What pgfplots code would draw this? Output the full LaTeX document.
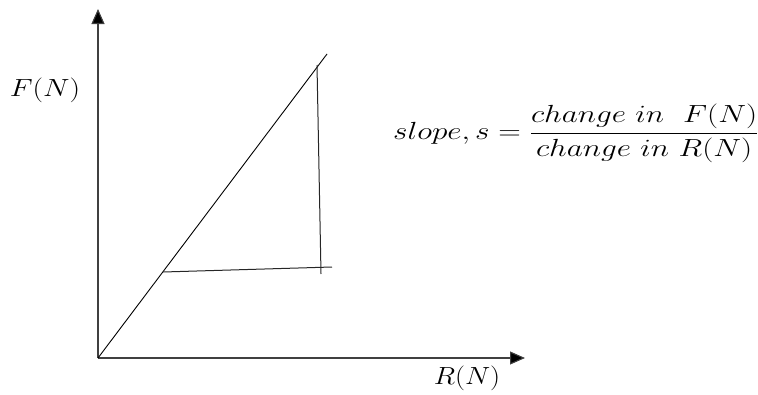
\documentclass[border=0pt]{standalone}
\usepackage{pgfplots}
\pgfplotsset{compat=1.18}
\usepackage{amsmath}
\usetikzlibrary{arrows.meta}
\begin{document}
\begin{tikzpicture}[x=1bp,y=1bp]
\useasboundingbox (0,0) rectangle (758,394);
\begin{axis}[
  at={(98bp,36bp)}, anchor=origin,
  x=1bp, y=1bp,
  xmin=0, xmax=427, ymin=0, ymax=349,
  axis lines=middle,
  ticks=none,
  clip=false,
  axis line style={line width=1.1bp, black!75, -{Triangle[width=13bp,length=15bp,fill=black]}},
]
\addplot[black, line width=0.9bp] coordinates {(0,0) (229,304)};
\addplot[black!85, line width=1bp] coordinates {(219,293) (223,84)};
\addplot[black!85, line width=1bp] coordinates {(65,86) (234,91)};
\node[font=\fontsize{25}{30}\selectfont, inner sep=0pt] at (axis cs:-53,268) {\scalebox{1.2}[1]{$F(N)$}};
\node[font=\fontsize{25}{30}\selectfont, inner sep=0pt] at (axis cs:369,-20) {\scalebox{1.14}[1]{$R(N)$}};
\node[font=\fontsize{25}{30}\selectfont, anchor=base west, inner sep=0pt] at (axis cs:295,218.75) {\scalebox{1.26}[1]{$slope, s = \dfrac{change\ in\ \ F(N)}{change\ in\ R(N)}$}};
\end{axis}
\end{tikzpicture}
\end{document}
